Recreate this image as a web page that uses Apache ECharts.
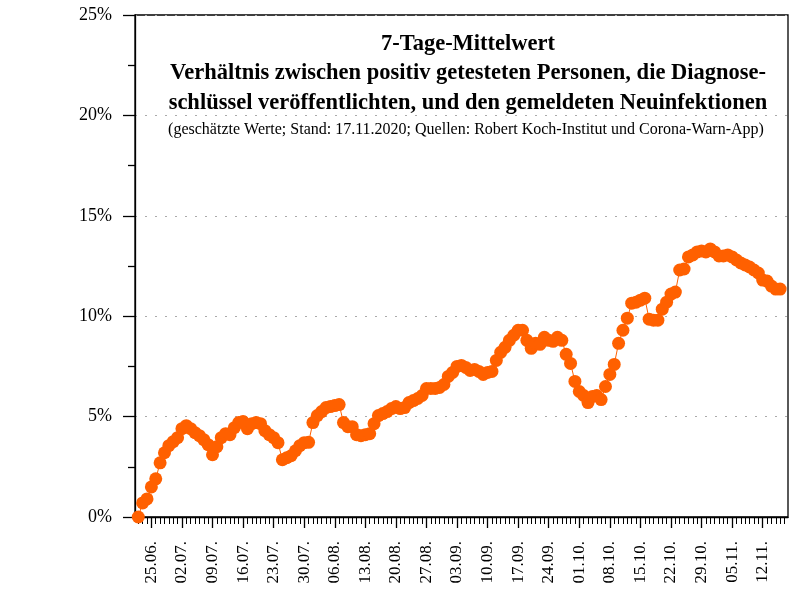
<!DOCTYPE html>
<html>
<head>
    <meta charset="utf-8">
    <script src="https://cdn.jsdelivr.net/npm/echarts@6/dist/echarts.min.js"></script>
</head>
<body style="margin: 0">
    <div id="container" style="width: 800px; height: 600px;"></div>
    <script>
    // first value belongs to 22.06.2020, day offsets counted from 25.06.
    var firstDay = -3;
    var shares = [
        0.0, 0.7, 0.9, 1.5, 1.9, 2.7, 3.2, 3.55, 3.75, 3.95,
        4.4, 4.55, 4.4, 4.2, 4.05, 3.85, 3.6, 3.1, 3.5, 3.95,
        4.15, 4.1, 4.45, 4.7, 4.75, 4.4, 4.65, 4.7, 4.65, 4.3,
        4.1, 3.95, 3.7, 2.85, 2.95, 3.05, 3.3, 3.55, 3.7, 3.72,
        4.7, 5.05, 5.25, 5.45, 5.5, 5.55, 5.6, 4.7, 4.5, 4.5,
        4.1, 4.05, 4.1, 4.15, 4.65, 5.05, 5.15, 5.25, 5.4, 5.5,
        5.4, 5.45, 5.7, 5.8, 5.9, 6.05, 6.4, 6.4, 6.4, 6.45,
        6.6, 7.0, 7.2, 7.5, 7.55, 7.45, 7.3, 7.35, 7.25, 7.1,
        7.2, 7.25, 7.8, 8.2, 8.45, 8.8, 9.05, 9.3, 9.3, 8.8,
        8.4, 8.65, 8.6, 8.95, 8.8, 8.75, 8.95, 8.8, 8.1, 7.65,
        6.75, 6.25, 6.05, 5.7, 6.0, 6.05, 5.85, 6.5, 7.1, 7.6,
        8.65, 9.3, 9.9, 10.65, 10.7, 10.8, 10.9, 9.85, 9.8, 9.8,
        10.35, 10.7, 11.1, 11.2, 12.3, 12.35, 12.95, 13.05, 13.2, 13.25,
        13.2, 13.35, 13.2, 13.0, 13.0, 13.05, 12.95, 12.8, 12.65, 12.55,
        12.45, 12.3, 12.15, 11.8, 11.75, 11.5, 11.35, 11.35
    ];
    var tickLabels = ['25.06.', '02.07.', '09.07.', '16.07.', '23.07.', '30.07.', '06.08.',
        '13.08.', '20.08.', '27.08.', '03.09.', '10.09.', '17.09.', '24.09.', '01.10.',
        '08.10.', '15.10.', '22.10.', '29.10.', '05.11.', '12.11.'];

    var font = 'Liberation Serif';
    var orange = '#ff6000';

    var points = shares.map(function (v, i) { return [firstDay + i, v]; });
    var labelDays = tickLabels.map(function (t, i) { return i * 7; });
    var allDays = [];
    for (var d = firstDay; d <= 145; d++) allDays.push(d);

    var dom = document.getElementById('container');
    var myChart = echarts.init(dom);
    var option = {
        animation: false,
        backgroundColor: '#fff',
        title: [{
            text: '7-Tage-Mittelwert\nVerhältnis zwischen positiv getesteten Personen, die Diagnose-\nschlüssel veröffentlichten, und den gemeldeten Neuinfektionen',
            left: 463,
            top: 24,
            textAlign: 'center',
            textStyle: {
                fontFamily: font,
                fontSize: 22.5,
                fontWeight: 'bold',
                color: '#000',
                lineHeight: 29.5
            }
        }, {
            text: '(geschätzte Werte; Stand: 17.11.2020; Quellen: Robert Koch-Institut und Corona-Warn-App)',
            left: 461,
            top: 117,
            textAlign: 'center',
            textStyle: {
                fontFamily: font,
                fontSize: 16,
                fontWeight: 'normal',
                color: '#000'
            }
        }],
        grid: {
            show: true,
            left: 135,
            right: 12,
            top: 15,
            bottom: 83,
            borderColor: '#000',
            borderWidth: 1.3
        },
        xAxis: [{
            type: 'value',
            min: -3.75,
            max: 145.8,
            axisLine: { lineStyle: { color: '#000', width: 1.3 } },
            axisTick: { customValues: labelDays, length: 11, lineStyle: { color: '#000', width: 1.3 } },
            axisLabel: {
                customValues: labelDays,
                rotate: 90,
                margin: 24,
                fontFamily: font,
                fontSize: 17,
                color: '#000',
                formatter: function (v) { return tickLabels[Math.round(v / 7)]; }
            },
            splitLine: { show: false }
        }, {
            type: 'value',
            min: -3.75,
            max: 145.8,
            position: 'bottom',
            axisLine: { show: false },
            axisTick: { customValues: allDays, length: 7, lineStyle: { color: '#000', width: 1 } },
            axisLabel: { show: false },
            splitLine: { show: false }
        }],
        yAxis: {
            type: 'value',
            min: 0,
            max: 25,
            interval: 5,
            axisLine: { show: true, onZero: false, lineStyle: { color: '#000', width: 1.3 } },
            axisTick: { show: true, length: 12, lineStyle: { color: '#000', width: 1.3 } },
            minorTick: { show: true, splitNumber: 2, length: 7, lineStyle: { color: '#000', width: 1.3 } },
            axisLabel: {
                margin: 23,
                fontFamily: font,
                fontSize: 18,
                color: '#000',
                formatter: '{value}%'
            },
            splitLine: { show: true, lineStyle: { color: '#aaa', type: [2, 8], width: 1 } }
        },
        series: [{
            type: 'line',
            data: points,
            symbol: 'circle',
            symbolSize: 13,
            itemStyle: { color: orange },
            lineStyle: { color: orange, width: 1 },
            z: 3
        }]
    };
    myChart.setOption(option);
    </script>
</body>
</html>
